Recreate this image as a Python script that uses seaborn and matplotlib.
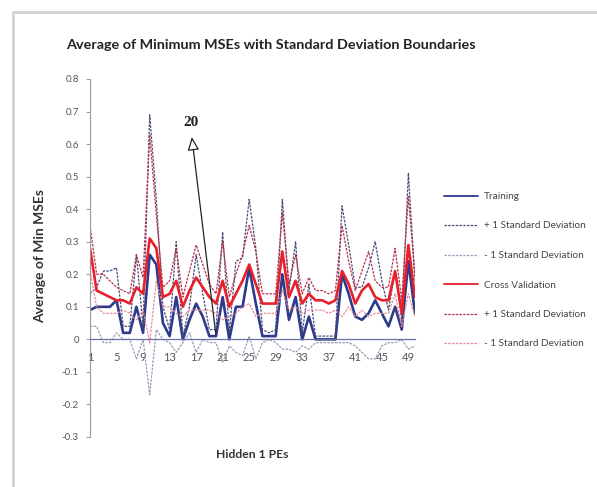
import numpy as np
import pandas as pd
import matplotlib
matplotlib.use("Agg")
import matplotlib.pyplot as plt
import seaborn as sns
from matplotlib.patches import Rectangle

# data =============================================================
hidden_pes = list(range(1, 51))

training = [0.09, 0.10, 0.10, 0.10, 0.12, 0.02, 0.02, 0.10, 0.02, 0.26,
            0.23, 0.05, 0.01, 0.13, 0.00, 0.06, 0.11, 0.07, 0.01, 0.01,
            0.13, 0.00, 0.10, 0.10, 0.22, 0.11, 0.01, 0.01, 0.01, 0.20,
            0.06, 0.13, 0.00, 0.07, 0.00, 0.00, 0.00, 0.00, 0.20, 0.14,
            0.07, 0.06, 0.08, 0.12, 0.08, 0.04, 0.10, 0.03, 0.24, 0.08]
training_sd = [0.05, 0.06, 0.11, 0.11, 0.10, 0.02, 0.02, 0.16, 0.02, 0.43,
               0.20, 0.05, 0.02, 0.17, 0.01, 0.04, 0.15, 0.07, 0.02, 0.02,
               0.20, 0.02, 0.14, 0.15, 0.21, 0.17, 0.02, 0.01, 0.02, 0.23,
               0.09, 0.17, 0.02, 0.10, 0.01, 0.01, 0.01, 0.01, 0.21, 0.15,
               0.09, 0.10, 0.14, 0.18, 0.10, 0.05, 0.11, 0.03, 0.27, 0.10]

cross_val = [0.28, 0.15, 0.14, 0.13, 0.12, 0.12, 0.11, 0.16, 0.14, 0.31,
             0.28, 0.13, 0.14, 0.18, 0.10, 0.15, 0.19, 0.16, 0.13, 0.11,
             0.18, 0.10, 0.14, 0.18, 0.23, 0.17, 0.11, 0.11, 0.11, 0.27,
             0.13, 0.18, 0.11, 0.14, 0.12, 0.12, 0.11, 0.12, 0.21, 0.17,
             0.11, 0.15, 0.17, 0.13, 0.12, 0.12, 0.21, 0.08, 0.29, 0.13]
cross_val_sd = [0.07, 0.05, 0.06, 0.05, 0.04, 0.03, 0.03, 0.10, 0.05, 0.32,
                0.10, 0.03, 0.04, 0.10, 0.03, 0.06, 0.10, 0.07, 0.04, 0.03,
                0.12, 0.03, 0.06, 0.08, 0.12, 0.10, 0.03, 0.03, 0.03, 0.12,
                0.04, 0.08, 0.03, 0.05, 0.03, 0.03, 0.03, 0.03, 0.14, 0.07,
                0.04, 0.06, 0.10, 0.05, 0.04, 0.04, 0.07, 0.04, 0.15, 0.06]

y_ticks = [-0.3, -0.2, -0.1, 0, 0.1, 0.2, 0.3, 0.4, 0.5, 0.6, 0.7, 0.8]
y_tick_labels = ["-0.3", "-0.2", "-0.1", "0", "0.1", "0.2", "0.3",
                 "0.4", "0.5", "0.6", "0.7", "0.8"]
x_ticks = list(range(1, 51, 4))

tr = np.array(training)
tr_sd = np.array(training_sd)
cv = np.array(cross_val)
cv_sd = np.array(cross_val_sd)

series = [
    ("Training", tr, "#2E3A8C", "-", 1.9),
    ("+ 1 Standard Deviation", tr + tr_sd, "#4A4A7A", (0, (2, 1)), 0.9),
    ("- 1 Standard Deviation", tr - tr_sd, "#9A9AB8", (0, (2, 1)), 0.9),
    ("Cross Validation", cv, "#E8202A", "-", 1.9),
    ("+ 1 Standard Deviation", cv + cv_sd, "#B8304A", (0, (2, 1)), 0.9),
    ("- 1 Standard Deviation", cv - cv_sd, "#E88A98", (0, (2, 1)), 0.9),
]

# plot ==============================================================
sns.set_style("white")
plt.rcParams["font.family"] = ["Lato", "DejaVu Sans"]

fig = plt.figure(figsize=(5.97, 4.87), dpi=100)
fig.patches.append(Rectangle((13 / 597, -0.1), 1.2, 1 - 12 / 487 + 0.1,
                             transform=fig.transFigure, fill=False,
                             ec="#D2D2D2", lw=2.0))

ax = fig.add_axes([90 / 597, 1 - 437 / 487, 325 / 597, 358 / 487])

handles = []
for label, vals, color, ls, lw in series:
    sns.lineplot(x=hidden_pes, y=vals, ax=ax, color=color, linestyle=ls,
                 linewidth=lw)
    handles.append(plt.Line2D([], [], color=color, linestyle=ls,
                              linewidth=1.3 if lw > 1 else 0.9, label=label))

ax.set_xlim(1, 50)
ax.set_ylim(-0.3, 0.8)
ax.set_yticks(y_ticks)
ax.set_yticklabels(y_tick_labels)
ax.set_xticks(x_ticks)
ax.set_xticklabels([str(t) for t in x_ticks])

for side in ["top", "right"]:
    ax.spines[side].set_visible(False)
ax.spines["left"].set_color("#9A9A9A")
ax.spines["left"].set_linewidth(0.8)
ax.spines["bottom"].set_position(("data", 0))
ax.spines["bottom"].set_color("#6A70A8")
ax.spines["bottom"].set_linewidth(0.9)

ax.tick_params(axis="y", direction="out", length=3, width=0.7, color="#9A9A9A",
               labelsize=7, labelcolor="#555555", pad=5, left=True)
ax.tick_params(axis="x", length=0, labelsize=8, labelcolor="#555555", pad=9)

ax.set_xlabel("")
ax.set_ylabel("")

# annotation pointing at 20 hidden PEs
ax.annotate("", xy=(16.3, 0.63), xytext=(20, training[19]),
            arrowprops=dict(arrowstyle="-|>,head_length=0.8,head_width=0.35",
                            fc="white", ec="#222222", lw=0.9))
ax.text(16.2, 0.665, "20", ha="center", va="center", fontsize=11,
        fontweight="bold", family="Liberation Serif", color="#222222")

fig.text(271 / 597, 1 - 45 / 487,
         "Average of Minimum MSEs with Standard Deviation Boundaries",
         ha="center", va="center", fontsize=10.4, fontweight="bold",
         color="#222222")
fig.text(40 / 597, 1 - 256 / 487, "Average of Min MSEs", rotation=90,
         ha="center", va="center", fontsize=10, fontweight="bold",
         color="#333333")
fig.text(252 / 597, 1 - 455 / 487, "Hidden 1 PEs", ha="center", va="center",
         fontsize=8.7, fontweight="bold", color="#333333")

fig.legend(handles=handles, loc="upper left",
           bbox_to_anchor=(440 / 597, 1 - 188 / 487), frameon=False,
           fontsize=7.2, labelcolor="#444444", handlelength=3.4,
           labelspacing=2.05, handletextpad=0.6, borderaxespad=0)

fig.savefig("out.png", dpi=100)
